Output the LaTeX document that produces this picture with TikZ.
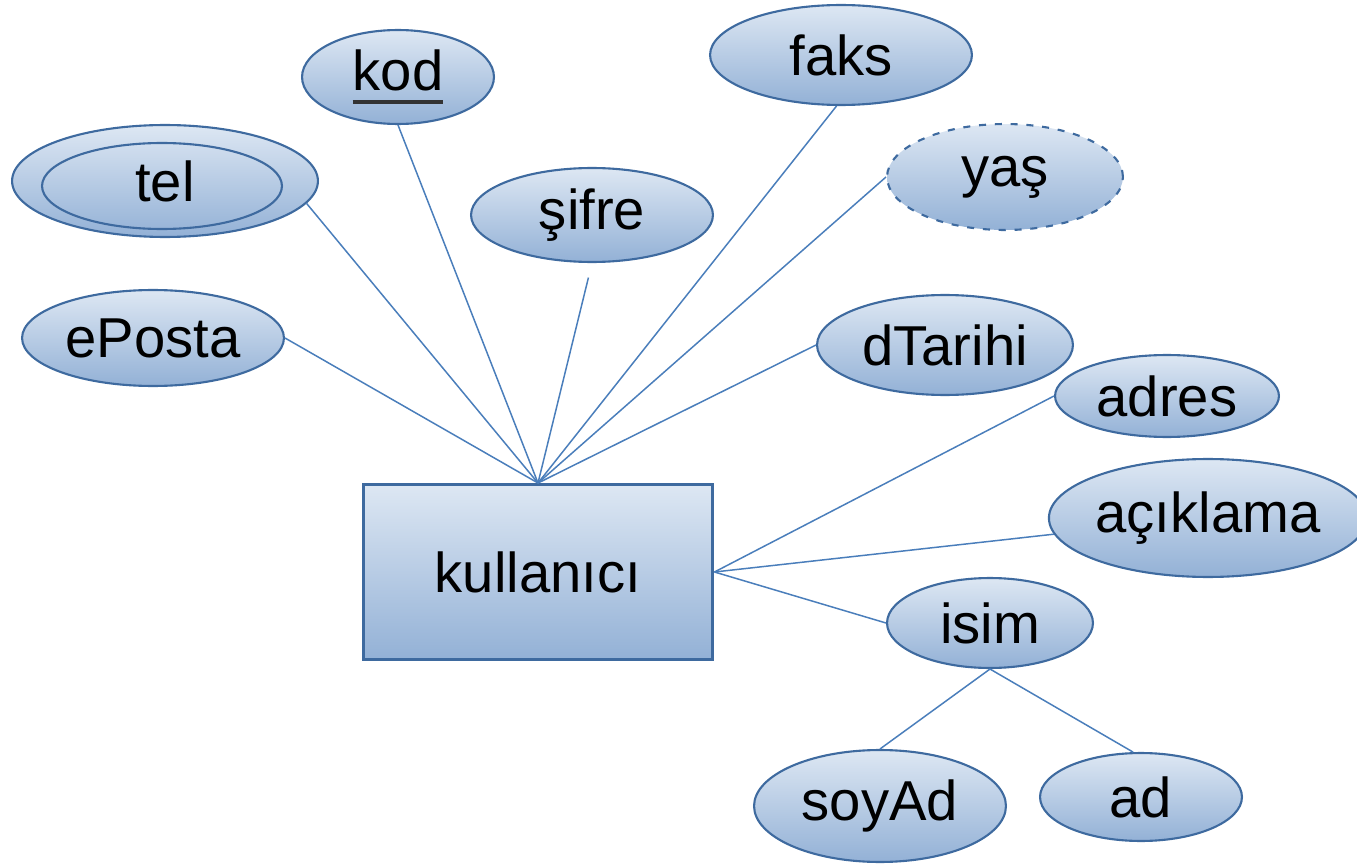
\documentclass[tikz,border=0pt]{standalone}
\usepackage{fontspec}
\setmainfont{Liberation Sans}
\usetikzlibrary{shapes.geometric}
\definecolor{erline}{HTML}{4A7EBB}
\definecolor{erborder}{HTML}{3E6A9F}
\definecolor{ertop}{HTML}{DDE7F3}
\definecolor{erbot}{HTML}{93B1D6}
\newcommand{\keyattr}[1]{\setbox0\hbox{#1}\rlap{\color{black!80}\rule[-0.28cm]{\wd0}{0.08cm}}#1}

\begin{document}
\begin{tikzpicture}[x=0.02cm,y=-0.02cm,
		erfont/.style={font=\fontsize{32}{38}\selectfont},
		entity/.style={rectangle,draw=erborder,line width=1.7pt,top color=ertop,bottom color=erbot,
			minimum width=7cm,minimum height=3.5cm,erfont},
		attr/.style={ellipse,draw=erborder,line width=1.2pt,top color=ertop,bottom color=erbot,
			inner sep=0pt,erfont},
		axes/.style 2 args={minimum width=#1*0.04cm,minimum height=#2*0.04cm},
		link/.style={draw=erline,line width=0.85pt}]
		\useasboundingbox (0,0) rectangle (1357,865);
		% entity
		\node[entity] (kullanici) at (538,572) {kullanıcı};
		% attributes on top
		\node[attr,axes={153}{56}] (tel) at (165,181) {tel};
		\draw[erborder,line width=1.2pt] ([shift={(-3,5)}]tel.center) ellipse (2.4cm and 0.86cm);
		\node[attr,axes={96}{47}] (kod) at (398,77) {\keyattr{kod}};
		\node[attr,axes={121}{47}] (sifre) at (592,215) {şifre};
		\node[attr,axes={131}{50}] (faks) at (841,55) {faks};
		\node[attr,axes={118}{53},dash pattern=on 4pt off 5pt] (yas) at (1005,177) {yaş};
		\node[attr,axes={131}{48}] (eposta) at (153,338) {ePosta};
		\node[attr,axes={128}{50}] (dtarihi) at (945,345) {dTarihi};
		% attributes on the right
		\node[attr,axes={112}{41}] (adres) at (1167,396) {adres};
		\node[attr,axes={148}{59}] (aciklama) at (1208,518) {açıklama};
		\node[attr,axes={103}{45}] (isim) at (990,623) {isim};
		\node[attr,axes={126}{56}] (soyad) at (880,806) {soyAd};
		\node[attr,axes={101}{44}] (ad) at (1141,797) {ad};
		% connectors
		\draw[link] (kullanici.north) -- (eposta.east);
		\draw[link] (kullanici.north) -- (tel.-9);
		\draw[link] (kullanici.north) -- (kod.south);
		\draw[link,shorten >=0.3cm] (kullanici.north) -- (sifre.south);
		\draw[link] (kullanici.north) -- (faks.-95);
		\draw[link] (kullanici.north) -- (yas.west);
		\draw[link] (kullanici.north) -- (dtarihi.west);
		\draw[link] (kullanici.east) -- (adres.west);
		\draw[link] (kullanici.east) -- (aciklama.186);
		\draw[link] (kullanici.east) -- (isim.west);
		\draw[link] (isim.south) -- (soyad.north);
		\draw[link] (isim.south) -- (ad.100);
	\end{tikzpicture}
\end{document}
